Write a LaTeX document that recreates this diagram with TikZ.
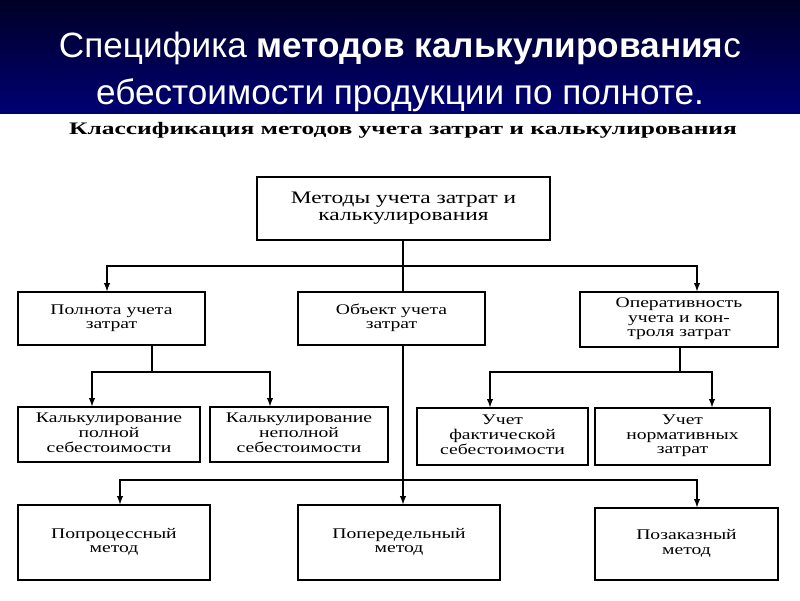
\documentclass[tikz,border=0pt]{standalone}
\usepackage{fontspec}
\usepackage{graphicx}
\setmainfont{Liberation Serif}
\newfontfamily\hfont{Liberation Sans}
\newcommand\wtxt[1]{\scalebox{1.33}[1]{\begin{tabular}{@{}c@{}}#1\end{tabular}}}
\begin{document}
\begin{tikzpicture}[x=0.025cm,y=-0.025cm,
 bx/.style={draw,line width=1pt,fill=white,inner sep=0pt,align=center,font=\fontsize{10.5}{10.3}\selectfont},
 sz/.style 2 args={minimum width=#1*0.7113pt,minimum height=#2*0.7113pt},
 ln/.style={line width=1pt},
 ar/.style={line width=1pt,-{latex}}]
\useasboundingbox (0,0) rectangle (800,600);
\fill[white] (0,0) rectangle (800,600);
\shade[top color=black!85!blue,bottom color=blue!45!black] (0,0) rectangle (800,113);
\node[text=white,font=\hfont\fontsize{25}{28}\selectfont] (t1) at (400,48) {Специфика \textbf{методов калькулирования}с};
\node[text=white,font=\hfont\fontsize{25}{28}\selectfont] (t2) at (400,95) {ебестоимости продукции по полноте.};
\node[font=\fontsize{12.5}{13}\selectfont\bfseries] (sub) at (403,130) {\scalebox{1.45}[1]{Классификация методов учета затрат и калькулирования}};
\node[bx,sz={293}{63},font=\fontsize{12.5}{12}\selectfont] (top) at (403.5,208.5) {\wtxt{Методы учета затрат и\\калькулирования}};
\node[bx,sz={187}{53}] (a) at (111.5,318.5) {\wtxt{Полнота учета\\затрат}};
\node[bx,sz={187}{53}] (b) at (391.5,318.5) {\wtxt{Объект учета\\затрат}};
\node[bx,sz={198}{55}] (c) at (679,319.5) {\wtxt{Оперативность\\учета и кон-\\троля затрат}};
\node[bx,sz={182}{55}] (a1) at (109,434.5) {\wtxt{Калькулирование\\полной\\себестоимости}};
\node[bx,sz={178}{55}] (a2) at (299,434.5) {\wtxt{Калькулирование\\неполной\\себестоимости}};
\node[bx,sz={171}{57}] (c1) at (502.5,436.5) {\wtxt{Учет\\фактической\\себестоимости}};
\node[bx,sz={175}{57}] (c2) at (682.5,436.5) {\wtxt{Учет\\нормативных\\затрат}};
\node[bx,sz={192}{75}] (d1) at (114,542.5) {\wtxt{Попроцессный\\метод}};
\node[bx,sz={202}{75}] (d2) at (399,542.5) {\wtxt{Попередельный\\метод}};
\node[bx,sz={183}{72}] (d3) at (686.5,544) {\wtxt{Позаказный\\метод}};
\coordinate (j1) at (403,266);
\draw[ln] (top.south -| j1) -- (j1);
\draw[ar] (j1) -| (a.north -| 107,0);
\draw[ar] (j1) -| (c.north -| 697,0);
\draw[ln] (j1) -- (b.north -| 403,0);
\draw[ar] (b.south -| 403,0) -- (d2.north -| 403,0);
\coordinate (j2) at (403,480);
\draw[ar] (j2) -| (d1.north -| 120,0);
\draw[ar] (j2) -| (d3.north -| 697,0);
\coordinate (j3) at (152,372);
\draw[ln] (a.south -| 152,0) -- (j3);
\draw[ar] (j3) -| (a1.north -| 92,0);
\draw[ar] (j3) -| (a2.north -| 270,0);
\coordinate (j4) at (680,372);
\draw[ln] (c.south -| 680,0) -- (j4);
\draw[ar] (j4) -| (c1.north -| 490,0);
\draw[ar] (j4) -| (c2.north -| 712,0);
\end{tikzpicture}
\end{document}
